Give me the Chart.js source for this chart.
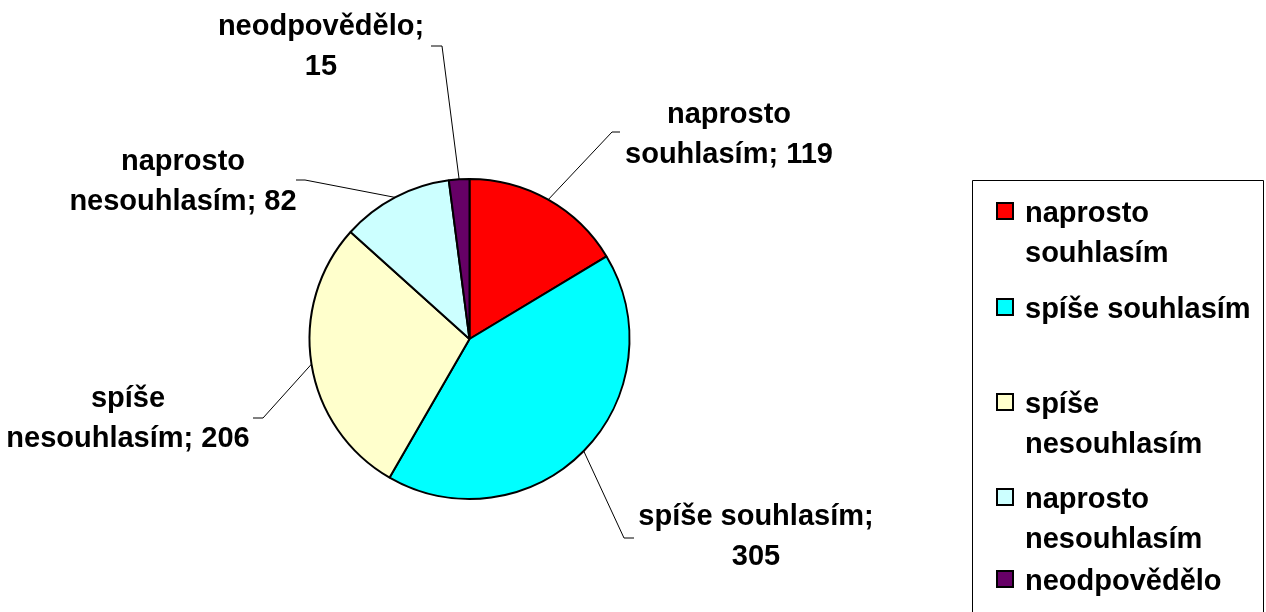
<!DOCTYPE html>
<html>
<head>
<meta charset="utf-8">
<title>Pie</title>
<script src="https://cdn.jsdelivr.net/npm/chart.js@4/dist/chart.umd.min.js"></script>
<style>
  html, body { margin: 0; padding: 0; background: #fff; }
  #wrap { width: 1266px; height: 612px; position: relative; }
</style>
</head>
<body>
<div id="wrap"><canvas id="pie"></canvas></div>
<script>
// data
var categories = ['naprosto souhlasím', 'spíše souhlasím', 'spíše nesouhlasím', 'naprosto nesouhlasím', 'neodpovědělo'];
var values = [119, 305, 206, 82, 15];
var colors = ['#FF0000', '#00FFFF', '#FFFFCC', '#CCFFFF', '#660066'];
// how many words go on the first line of each label / legend entry
var firstLineWords = [1, 2, 1, 1, 1];

// layout (label block centre x + first baseline, leader elbow, leader end)
var labelPos = [[729, 123], [756, 525], [128, 407], [183, 170], [321, 35]];
var elbowPos = [[612, 132], [624, 538], [263, 418], [305, 180], [442, 46]];
var endPos = [[620, 132], [634, 538], [253, 418], [296, 180], [431, 46]];
var legendY = [222, 318, 413, 508, 590];

var FONT = 'bold 29px "Liberation Sans", Arial, sans-serif';
var LINE_H = 39.5;

function splitLines(text, n) {
    var words = text.split(' ');
    var lines = [words.slice(0, n).join(' ')];
    if (words.length > n) lines.push(words.slice(n).join(' '));
    return lines;
}

var labelPlugin = {
    id: 'labelPlugin',
    afterDraw: function(chart) {
        var ctx = chart.ctx;
        var meta = chart.getDatasetMeta(0);
        ctx.save();

        // leader lines
        ctx.strokeStyle = '#000';
        ctx.lineWidth = 1;
        for (var i = 0; i < meta.data.length; i++) {
            var p = meta.data[i].getProps(['x', 'y', 'startAngle', 'endAngle', 'outerRadius'], true);
            var mid = (p.startAngle + p.endAngle) / 2;
            var sx = p.x + Math.cos(mid) * p.outerRadius;
            var sy = p.y + Math.sin(mid) * p.outerRadius;
            ctx.beginPath();
            ctx.moveTo(sx, sy);
            ctx.lineTo(elbowPos[i][0], elbowPos[i][1]);
            ctx.lineTo(endPos[i][0], endPos[i][1]);
            ctx.stroke();
        }

        // data labels
        ctx.font = FONT;
        ctx.fillStyle = '#000';
        ctx.textAlign = 'center';
        ctx.textBaseline = 'alphabetic';
        for (var j = 0; j < categories.length; j++) {
            var lines = splitLines(categories[j] + '; ' + values[j], firstLineWords[j]);
            for (var k = 0; k < lines.length; k++) {
                ctx.fillText(lines[k], labelPos[j][0], labelPos[j][1] + k * LINE_H);
            }
        }

        // legend box
        ctx.strokeStyle = '#000';
        ctx.lineWidth = 1;
        ctx.beginPath();
        ctx.moveTo(972.5, 620);
        ctx.lineTo(972.5, 180.5);
        ctx.lineTo(1263.5, 180.5);
        ctx.lineTo(1263.5, 620);
        ctx.stroke();

        ctx.textAlign = 'left';
        for (var m = 0; m < categories.length; m++) {
            var by = legendY[m];
            ctx.fillStyle = colors[m];
            ctx.fillRect(997, by - 19, 16, 16);
            ctx.lineWidth = 2;
            ctx.strokeStyle = '#000';
            ctx.strokeRect(997, by - 19, 16, 16);
            ctx.fillStyle = '#000';
            var ll = splitLines(categories[m], firstLineWords[m]);
            for (var n = 0; n < ll.length; n++) {
                ctx.fillText(ll[n], 1025, by + n * LINE_H);
            }
        }
        ctx.restore();
    }
};

document.addEventListener('DOMContentLoaded', function() {
    var ctx = document.getElementById('pie').getContext('2d');
    new Chart(ctx, {
        type: 'pie',
        data: {
            labels: categories,
            datasets: [{
                data: values,
                backgroundColor: colors,
                borderColor: '#000',
                borderWidth: 2
            }]
        },
        options: {
            responsive: true,
            maintainAspectRatio: false,
            animation: false,
            layout: { padding: { left: 308, right: 635, top: 178, bottom: 112 } },
            plugins: {
                legend: { display: false },
                tooltip: { enabled: false }
            }
        },
        plugins: [labelPlugin]
    });
});
</script>
</body>
</html>
